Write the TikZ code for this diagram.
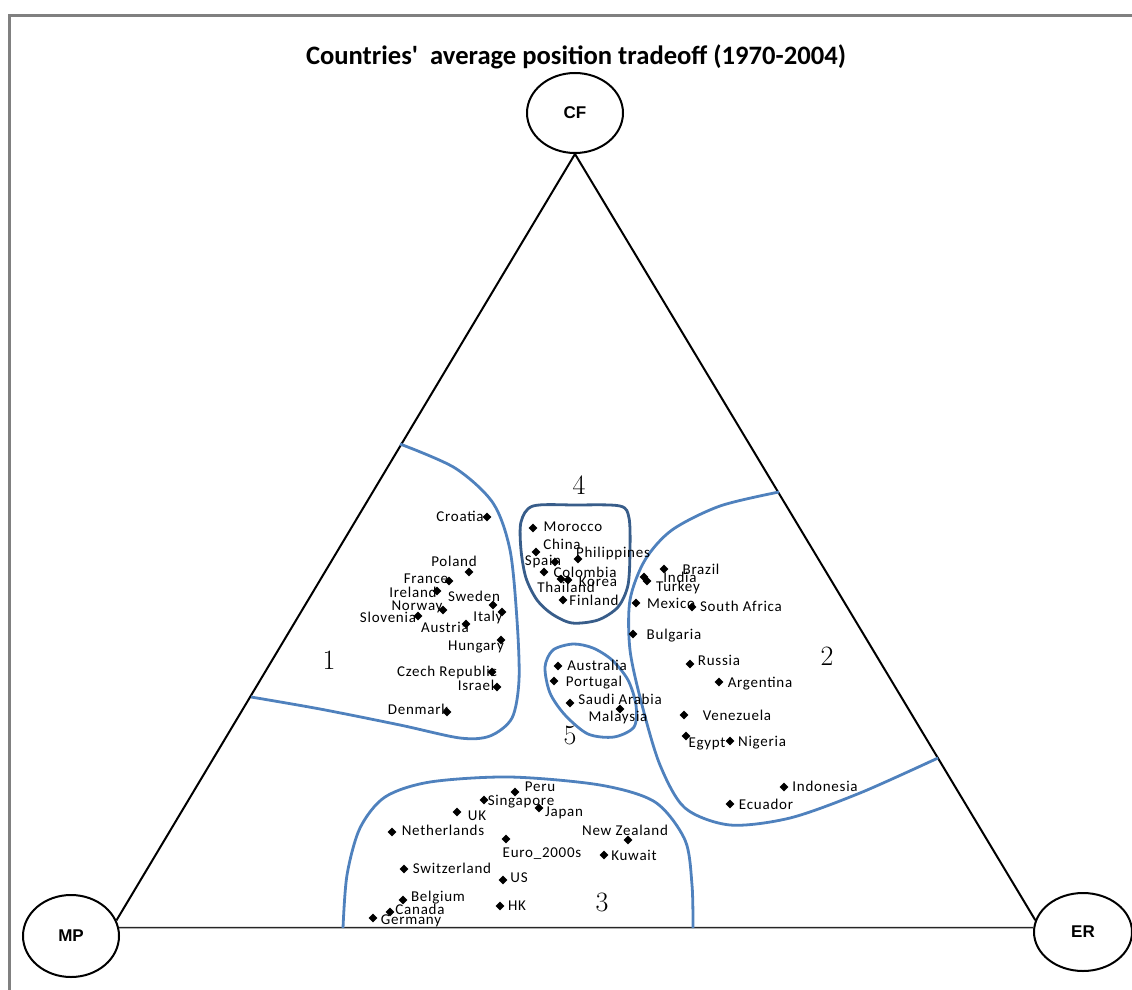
\documentclass[tikz,border=0pt]{standalone}
\usepackage{fontspec}
\newfontfamily\lblfont[LetterSpace=5]{Carlito}
\newfontfamily\titlefont{Carlito}
\newfontfamily\vtxfont{Liberation Sans}
\usetikzlibrary{shapes.geometric}
\definecolor{clusterblue}{RGB}{79,129,189}
\definecolor{clusterdark}{RGB}{56,93,138}
\definecolor{framegray}{RGB}{128,128,128}
\tikzset{
  vertex/.style={draw, ellipse, line width=2pt, minimum width=96pt, minimum height=80pt, inner sep=0pt,
    font=\vtxfont\bfseries\fontsize{17}{19}\selectfont},
  side/.style={line width=2pt},
  base/.style={line width=1.5pt, black!85},
  cluster/.style={clusterblue, line width=2.8pt},
  dot/.style={diamond, fill=black, inner sep=0pt, minimum size=9pt},
  cname/.style={font=\lblfont\fontsize{15}{16}\selectfont, inner sep=0pt, text height=8pt, text depth=0pt},
  cnum/.style={font=\fontsize{28}{30}\selectfont, inner sep=0pt, text height=18pt, text depth=0pt},
  heading/.style={font=\titlefont\bfseries\fontsize{26.6}{28}\selectfont, inner sep=0pt, text height=17pt, text depth=0pt}
}
\begin{document}
\begin{tikzpicture}[x=1pt, y=-1pt]
    \useasboundingbox (0,0) rectangle (1132,990);
    % Frame
    \draw[framegray, line width=2.7pt] (9.6,990) -- (9.6,15.3) -- (1132,15.3);

    % Title
    \node[heading] (title) at (576,56) {Countries'~\ average position tradeoff (1970-2004)};

    % Corners of the triangle
    \node[vertex] (CF) at (575,113) {CF};
    \node[vertex, minimum height=82pt] (MP) at (71,936) {MP};
    \node[vertex, minimum width=98pt, minimum height=78pt] (ER) at (1083,932) {ER};

    % Draw the triangle
    \draw[side] (CF.south) -- (MP.19);
    \draw[side] (CF.south) -- (ER.166);
    \draw[base] (MP.10) -- (ER.175);

    % Cluster borders
    \draw[cluster] plot[smooth] coordinates {(400,444) (455,468) (493,503) (510,550) (517,620) (519,680) (512,718) (490,736) (460,738) (400,725) (320,709) (251,697)};
    \draw[cluster] plot[smooth] coordinates {(779,492) (720,506) (672,530) (645,560) (630,600) (630,650) (642,705) (660,765) (685,808) (730,825) (790,818) (860,793) (938,758)};
    \draw[cluster] plot[smooth] coordinates {(343,928) (347,875) (360,828) (385,797) (430,782) (510,777) (600,785) (655,802) (685,840) (692,885) (693,928)};
    \draw[cluster, clusterdark] plot[smooth cycle] coordinates {(533,506) (575,505) (620,506) (629,518) (630,550) (628,585) (618,607) (598,620) (572,623) (552,614) (537,600) (526,578) (521,550) (521,522)};
    \draw[cluster] plot[smooth cycle] coordinates {(545,667) (553,650) (573,644) (593,648) (612,660) (628,680) (636,705) (634,727) (614,737) (588,734) (565,715) (550,693)};

    % Cluster numbers
    \node[cnum] (n1) at (329,660) {1};
    \node[cnum] (n2) at (827,656) {2};
    \node[cnum] (n3) at (602,902) {3};
    \node[cnum] (n4) at (579,485) {4};
    \node[cnum] (n5) at (570,735) {5};

    % Countries: point and name
    \foreach \x/\y/\lx/\ly/\t [count=\i] in {
        487/517/460/517/Croatia, 469/572/454/562/Poland, 449/581/426/579/France,
        437/591/413/593/Ireland, 443/610/417/606/Norway, 418/616/388/618/Slovenia,
        493/605/474/597/Sweden, 502/612/488/617/Italy, 466/624/445/628/Austria,
        501/640/476/646/Hungary, 492/672/447/672/Czech Republic, 497/687/476/686/Israel,
        447/712/418/710/Denmark,
        533/528/573/527/Morocco, 536/552/562/545/China, 555/562/543/561/Spain,
        578/559/613/553/Philippines, 544/572/585/573/Colombia, 561/579/566/588/Thailand,
        568/580/598/582/Korea, 563/600/594/601/Finland,
        664/569/701/570/Brazil, 644/577/680/578/India, 647/581/678/587/Turkey,
        636/603/671/604/Mexico, 692/607/741/607/South Africa, 633/634/674/635/Bulgaria,
        690/664/719/661/Russia, 719/682/760/683/Argentina, 684/715/737/716/Venezuela,
        686/736/707/743/Egypt, 730/741/762/742/Nigeria, 784/787/825/787/Indonesia,
        730/804/766/805/Ecuador,
        558/666/597/666/Australia, 554/681/594/682/Portugal, 570/703/620/700/Saudi Arabia,
        620/709/618/717/Malaysia,
        515/792/540/787/Peru, 484/800/521/801/Singapore, 457/812/477/816/UK,
        539/808/564/812/Japan, 392/832/443/831/Netherlands, 628/840/625/831/New Zealand,
        506/839/542/853/Euro\_2000s, 604/855/634/856/Kuwait, 404/869/452/869/Switzerland,
        503/880/519/878/US, 403/900/438/897/Belgium, 500/906/517/906/HK,
        390/912/420/910/Canada, 373/918/411/920/Germany} {
        \node[dot] (p\i) at (\x,\y) {};
        \node[cname] (c\i) at (\lx,\ly) {\t};
    }
\end{tikzpicture}
\end{document}
